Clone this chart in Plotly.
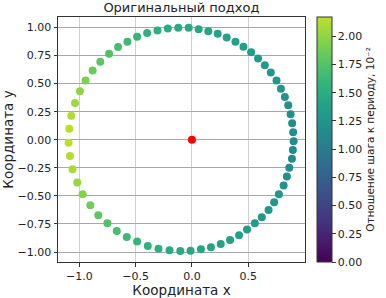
import plotly.graph_objects as go
import plotly.colors as pc
import numpy as np

x_vals = [-1.061, -1.084, -1.096, -1.090, -1.072, -1.039, -0.995, -0.945, -0.882, -0.814,
          -0.736, -0.656, -0.573, -0.487, -0.398, -0.306, -0.214, -0.121, -0.029, 0.060,
          0.146, 0.229, 0.309, 0.387, 0.458, 0.526, 0.588, 0.648, 0.701, 0.752,
          0.791, 0.826, 0.856, 0.877, 0.891, 0.900, 0.904, 0.897, 0.889, 0.865,
          0.844, 0.815, 0.773, 0.731, 0.681, 0.621, 0.559, 0.490, 0.419, 0.339,
          0.256, 0.169, 0.080, -0.012, -0.103, -0.199, -0.297, -0.392, -0.487, -0.579,
          -0.668, -0.751, -0.832, -0.903, -0.971, -1.019]
y_vals = [-0.262, -0.146, -0.027, 0.098, 0.214, 0.328, 0.432, 0.527, 0.616, 0.694,
          0.765, 0.825, 0.872, 0.917, 0.950, 0.973, 0.991, 0.997, 0.997, 0.985,
          0.967, 0.944, 0.911, 0.872, 0.828, 0.780, 0.723, 0.664, 0.598, 0.527,
          0.455, 0.381, 0.307, 0.227, 0.146, 0.066, -0.014, -0.092, -0.170, -0.250,
          -0.327, -0.407, -0.485, -0.556, -0.625, -0.690, -0.744, -0.800, -0.851, -0.893,
          -0.929, -0.958, -0.976, -0.988, -0.991, -0.985, -0.970, -0.946, -0.907, -0.866,
          -0.813, -0.744, -0.672, -0.583, -0.485, -0.380]
ratio_vals = [2.10, 2.14, 2.17, 2.16, 2.12, 2.06, 1.99, 1.92, 1.85, 1.79,
              1.74, 1.68, 1.63, 1.59, 1.55, 1.52, 1.49, 1.47, 1.45, 1.43,
              1.41, 1.40, 1.38, 1.37, 1.35, 1.34, 1.32, 1.30, 1.28, 1.26,
              1.24, 1.22, 1.20, 1.19, 1.17, 1.16, 1.16, 1.16, 1.17, 1.19,
              1.21, 1.23, 1.25, 1.27, 1.29, 1.31, 1.33, 1.34, 1.36, 1.38,
              1.39, 1.41, 1.43, 1.45, 1.47, 1.49, 1.52, 1.55, 1.59, 1.63,
              1.68, 1.74, 1.80, 1.87, 1.95, 2.03]
center_x = [0.0]
center_y = [0.0]
cbar_ticks = [0.0, 0.25, 0.5, 0.75, 1.0, 1.25, 1.5, 1.75, 2.0]
x_ticks = [-1.0, -0.5, 0.0, 0.5]
y_ticks = [-1.0, -0.75, -0.5, -0.25, 0.0, 0.25, 0.5, 0.75, 1.0]

# truncated viridis colour scale
pos = np.linspace(0, 1, 12)
cols = pc.sample_colorscale("Viridis", list(pos * 0.9))
cscale = [[float(p), c] for p, c in zip(pos, cols)]

FONT = "DejaVu Sans"
fig = go.Figure()
fig.add_trace(go.Scatter(
    x=x_vals, y=y_vals, mode="markers",
    marker=dict(size=8, color=ratio_vals, colorscale=cscale, cmin=0, cmax=2.17,
                line=dict(width=0),
                colorbar=dict(
                    thickness=15, len=1.0, lenmode="fraction", y=0.5, yanchor="middle",
                    x=1.047, xanchor="left", xpad=0, ypad=0,
                    outlinewidth=1, outlinecolor="#333",
                    tickvals=cbar_ticks, tickformat=".2f", ticks="outside", ticklen=3.5,
                    ticksuffix="\u2002\u2009",
                    tickcolor="#333", tickfont=dict(family=FONT, size=11, color="#222"),
                    title=dict(text="Отношение шага к периоду, 10⁻²", side="right",
                               font=dict(family=FONT, size=10.5, color="#222")),
                )),
    showlegend=False, hoverinfo="skip"))
fig.add_trace(go.Scatter(x=center_x, y=center_y, mode="markers",
                         marker=dict(size=8, color="red"), showlegend=False))

axis_common = dict(showline=True, linecolor="#333", linewidth=1, mirror=True,
                   ticks="outside", ticklen=3.5, tickcolor="#333", automargin=False,
                   tickfont=dict(family=FONT, size=11, color="#222"), zeroline=False)
fig.update_xaxes(range=[-1.19, 1.005], tickvals=x_ticks, tickformat=".1f",
                 showgrid=True, gridcolor="#d0d0d0", gridwidth=1,
                 title=dict(text="Координата x", font=dict(family=FONT, size=13.5, color="#222"),
                            standoff=4), **axis_common)
fig.update_yaxes(range=[-1.089, 1.093], tickvals=y_ticks, tickformat=".2f",
                 showgrid=True, gridcolor="#a8a8a8", gridwidth=1,
                 title=dict(text="Координата y", font=dict(family=FONT, size=13.5, color="#222"),
                            standoff=4), **axis_common)
fig.update_layout(
    width=386, height=298,
    margin=dict(l=58, r=81, t=17, b=36, autoexpand=False),
    paper_bgcolor="white", plot_bgcolor="white",
    title=dict(text="Оригинальный подход", x=0.47, xanchor="center", y=0.99, yanchor="top",
               font=dict(family=FONT, size=13, color="#222")),
)
fig.write_html("out.html", config={"displayModeBar": False},
               post_script="document.body.style.margin='0';document.body.style.overflow='hidden';")
